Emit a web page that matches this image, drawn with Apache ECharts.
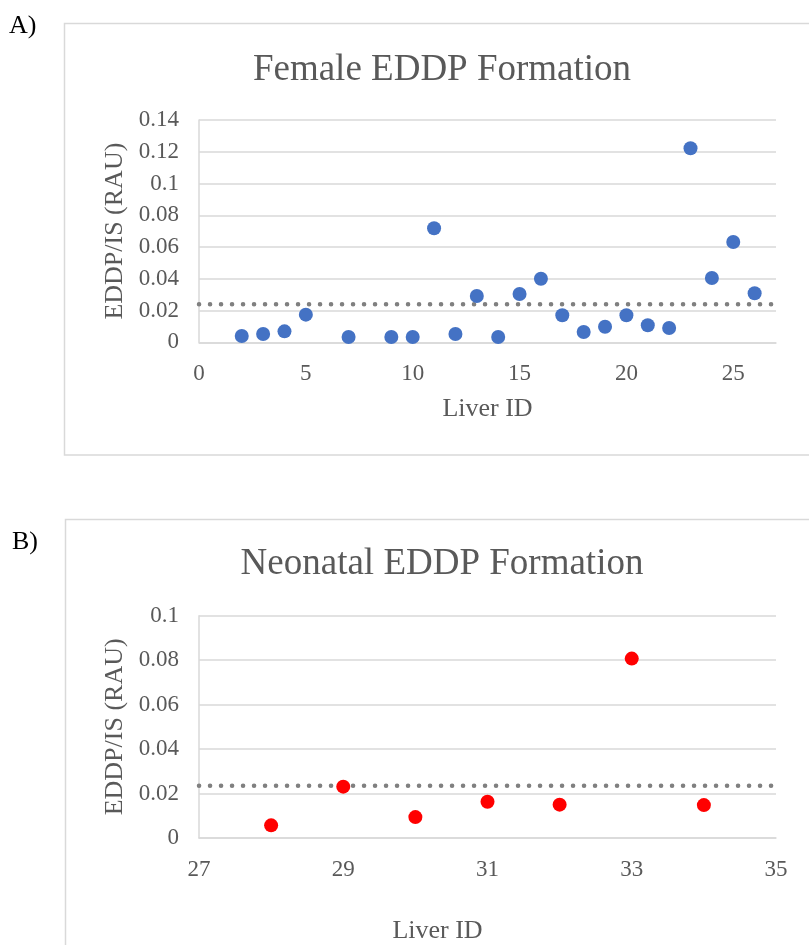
<!DOCTYPE html>
<html>
<head>
<meta charset="utf-8">
<script src="https://cdn.jsdelivr.net/npm/echarts@6/dist/echarts.min.js"></script>
<style>
html,body{margin:0;padding:0;background:#fff;}
#chart{width:809px;height:945px;}
</style>
</head>
<body>
<div id="chart"></div>
<script>
// ---- Data ----
const femaleIds    = [2, 3, 4, 5, 7, 9, 10, 11, 12, 13, 14, 15, 16, 17, 18, 19, 20, 21, 22, 23, 24, 25, 26];
const femaleValues = [0.004, 0.0052, 0.0069, 0.0174, 0.0033, 0.0033, 0.0033, 0.0718, 0.0052, 0.0292, 0.0033, 0.0304, 0.040, 0.017, 0.0065, 0.0098, 0.017, 0.0107, 0.009, 0.1222, 0.0405, 0.0632, 0.0309];
const femaleRefLine = 0.024;
const femaleTicks  = [0, 5, 10, 15, 20, 25];

const neoIds    = [28, 29, 30, 31, 32, 33, 34];
const neoValues = [0.0057, 0.0231, 0.0094, 0.0163, 0.015, 0.0807, 0.0148];
const neoRefLine = 0.0235;
const neoTicks  = [27, 29, 31, 33, 35];

const titleA = 'Female EDDP Formation';
const titleB = 'Neonatal EDDP Formation';
const yName = 'EDDP/IS (RAU)';
const xName = 'Liver ID';

// ---- Styles ----
const FONT = '"Liberation Serif", "Times New Roman", serif';
const TXT = '#595959';
const GRID = '#d9d9d9';

function pairs(xs, ys) { return xs.map((x, i) => [x, ys[i]]); }

function xAxisCfg(idx, min, max, ticks, gap, pad, margin) {
  return {
    gridIndex: idx, type: 'value', min: min, max: max,
    name: xName, nameLocation: 'middle', nameGap: gap,
    nameTextStyle: { fontFamily: FONT, fontSize: 26, color: TXT, padding: pad },
    axisLine: { show: true, onZero: false, lineStyle: { color: GRID, width: 1.5 } },
    axisTick: { show: false },
    splitLine: { show: false },
    axisLabel: { customValues: ticks, fontFamily: FONT, fontSize: 23, color: TXT, margin: margin }
  };
}
function yAxisCfg(idx, max) {
  return {
    gridIndex: idx, type: 'value', min: 0, max: max, interval: 0.02,
    name: yName, nameLocation: 'middle', nameGap: 70, nameRotate: 90,
    nameTextStyle: { fontFamily: FONT, fontSize: 26, color: TXT },
    axisLine: { show: true, lineStyle: { color: GRID, width: 1.5 } },
    axisTick: { show: false },
    splitLine: { show: true, lineStyle: { color: GRID, width: 1.5 } },
    axisLabel: { fontFamily: FONT, fontSize: 23, color: TXT, margin: 20 }
  };
}
function dotLine(idx, x0, x1, y) {
  return {
    type: 'line', xAxisIndex: idx, yAxisIndex: idx,
    data: [[x0, y], [x1, y]], symbol: 'none', silent: true, z: 1,
    lineStyle: { color: '#808080', width: 4.5, type: [0.1, 10.9], cap: 'round' }
  };
}

const chart = echarts.init(document.getElementById('chart'), null, { renderer: 'canvas' });
chart.setOption({
  animation: false,
  backgroundColor: '#fff',
  title: [
    { text: titleA, left: 437, top: 47, textAlign: 'center',
      textStyle: { fontFamily: FONT, fontSize: 37, fontWeight: 'normal', color: TXT } },
    { text: titleB, left: 437, top: 541, textAlign: 'center',
      textStyle: { fontFamily: FONT, fontSize: 37, fontWeight: 'normal', color: TXT } }
  ],
  graphic: [
    { type: 'rect', shape: { x: 64.5, y: 23.5, width: 800, height: 431.5 }, style: { fill: null, stroke: GRID, lineWidth: 1.5 }, z: -1 },
    { type: 'rect', shape: { x: 65.5, y: 519.5, width: 800, height: 500 }, style: { fill: null, stroke: GRID, lineWidth: 1.5 }, z: -1 },
    { type: 'text', left: 9, top: 13, style: { text: 'A)', font: '26px ' + FONT, fill: '#000' } },
    { type: 'text', left: 12, top: 529, style: { text: 'B)', font: '26px ' + FONT, fill: '#000' } }
  ],
  grid: [
    { left: 199, right: 33, top: 120, bottom: 602.7, containLabel: false, outerBoundsMode: 'none' },
    { left: 199, right: 33, top: 615.7, bottom: 107, containLabel: false, outerBoundsMode: 'none' }
  ],
  xAxis: [
    xAxisCfg(0, 0, 27, femaleTicks, 54, [0, 0, 0, 0], 20),
    xAxisCfg(1, 27, 35, neoTicks, 80, [0, 100, 0, 0], 20)
  ],
  yAxis: [ yAxisCfg(0, 0.14), yAxisCfg(1, 0.1) ],
  series: [
    dotLine(0, 0, 27, femaleRefLine),
    { type: 'scatter', xAxisIndex: 0, yAxisIndex: 0, data: pairs(femaleIds, femaleValues),
      symbol: 'circle', symbolSize: 14, itemStyle: { color: '#4472C4', opacity: 1 }, z: 3 },
    dotLine(1, 27, 35, neoRefLine),
    { type: 'scatter', xAxisIndex: 1, yAxisIndex: 1, data: pairs(neoIds, neoValues),
      symbol: 'circle', symbolSize: 14, itemStyle: { color: '#FF0000', opacity: 1 }, z: 3 }
  ]
});
</script>
</body>
</html>
